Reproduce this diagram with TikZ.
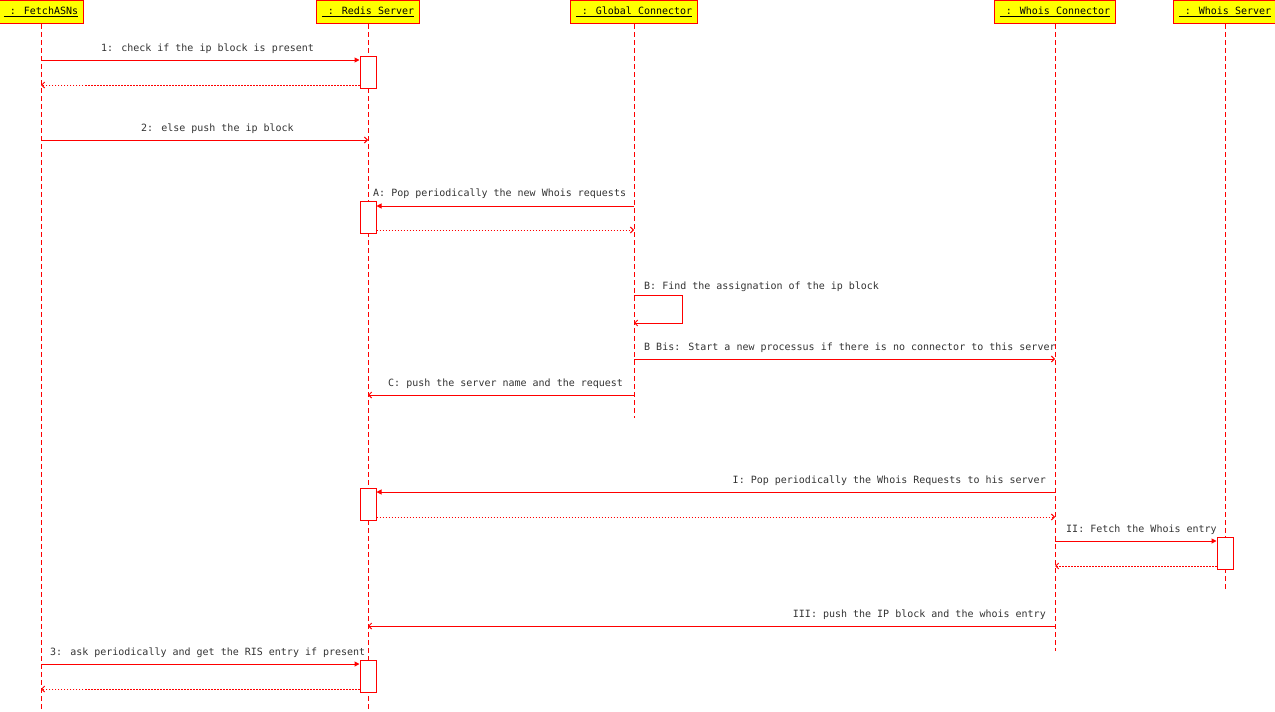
\documentclass[tikz,border=0pt]{standalone}
\usepackage{fontspec}
\setmainfont{DejaVu Sans Mono}
\usetikzlibrary{arrows.meta}
\definecolor{seqred}{RGB}{255,0,0}
\definecolor{headfill}{RGB}{255,255,0}
\definecolor{labeltext}{RGB}{51,51,51}
\begin{document}
\begin{tikzpicture}[x=1pt,y=-1pt,
  lifehead/.style={draw=seqred, fill=headfill, line width=1pt, minimum height=23pt,
    inner xsep=5pt, inner ysep=0pt, font=\fontsize{10}{12}\selectfont, text=black, anchor=north},
  lifeline/.style={draw=seqred, line width=1pt, dash pattern=on 5pt off 3pt},
  actbox/.style={draw=seqred, fill=white, line width=1pt, minimum width=16pt,
    minimum height=32pt, inner sep=0pt, anchor=north},
  syncmsg/.style={draw=seqred, line width=1pt, -{Triangle[length=5pt,width=5pt]}},
  asyncmsg/.style={draw=seqred, line width=1pt, -{Straight Barb[length=3pt,width=6pt]}},
  replymsg/.style={draw=seqred, line width=1pt, dash pattern=on 1.5pt off 1.5pt,
    -{Straight Barb[length=3pt,width=6pt]}},
  msglabel/.style={text=labeltext, font=\fontsize{10}{12}\selectfont, inner sep=0pt}
]
\useasboundingbox (0,0) rectangle (1275,712);

% lifeline heads
\node[lifehead] (fetch)  at (41,0)   {\underline{\ : FetchASNs}};
\node[lifehead] (redis)  at (368,0)  {\underline{\ : Redis Server}};
\node[lifehead] (global) at (634,0)  {\underline{\ : Global Connector}};
\node[lifehead] (whoisc) at (1055,0) {\underline{\ : Whois Connector}};
\node[lifehead] (whoiss) at (1225,0) {\underline{\ : Whois Server}};

% lifeline ends
\coordinate (fetchEnd)  at (41,712);
\coordinate (redisEnd)  at (368,712);
\coordinate (globalEnd) at (634,418);
\coordinate (whoiscEnd) at (1055,651);
\coordinate (whoissEnd) at (1225,589);

\draw[lifeline] (fetch.south)  -- (fetchEnd);
\draw[lifeline] (redis.south)  -- (redisEnd);
\draw[lifeline] (global.south) -- (globalEnd);
\draw[lifeline] (whoisc.south) -- (whoiscEnd);
\draw[lifeline] (whoiss.south) -- (whoissEnd);

% activation bars
\node[actbox] (act1) at (368,56)  {};
\node[actbox] (actA) at (368,201) {};
\node[actbox] (actI) at (368,488) {};
\node[actbox] (actII) at (1225,537) {};
\node[actbox] (act3) at (368,660) {};

% message anchor points on the lifelines
\coordinate (m1)   at (41,60);
\coordinate (r1)   at (41,85);
\coordinate (m2)   at (41,140);
\coordinate (m2e)  at (368,140);
\coordinate (mA)   at (634,206);
\coordinate (rA)   at (634,230);
\coordinate (mB)   at (634,295);
\coordinate (mBc1) at (682,295);
\coordinate (mBc2) at (682,323);
\coordinate (mBe)  at (634,323);
\coordinate (mBB)  at (634,359);
\coordinate (mBBe) at (1055,359);
\coordinate (mC)   at (634,395);
\coordinate (mCe)  at (368,395);
\coordinate (mI)   at (1055,492);
\coordinate (rI)   at (1055,517);
\coordinate (mII)  at (1055,541);
\coordinate (rII)  at (1055,566);
\coordinate (mIII) at (1055,626);
\coordinate (mIIIe) at (368,626);
\coordinate (m3)   at (41,664);
\coordinate (r3)   at (41,689);

% 1
\draw[syncmsg]  (m1) -- (act1.west |- m1);
\draw[replymsg] (act1.west |- r1) -- (r1);
\node[msglabel, anchor=base west] (l1) at (101,51) {1: check if the ip block is present};
% 2
\draw[asyncmsg] (m2) -- (m2e);
\node[msglabel, anchor=base west] (l2) at (141,131) {2: else push the ip block};
% A
\draw[syncmsg]  (mA) -- (actA.east |- mA);
\draw[replymsg] (actA.east |- rA) -- (rA);
\node[msglabel, anchor=base west] (lA) at (373,196) {A: Pop periodically the new Whois requests};
% B
\draw[asyncmsg] (mB) -- (mBc1) -- (mBc2) -- (mBe);
\node[msglabel, anchor=base west] (lB) at (644,289) {B: Find the assignation of the ip block};
% B Bis
\draw[asyncmsg] (mBB) -- (mBBe);
\node[msglabel, anchor=base west] (lBB) at (644,350) {B Bis: Start a new processus if there is no connector to this server};
% C
\draw[asyncmsg] (mC) -- (mCe);
\node[msglabel, anchor=base west] (lC) at (388,386) {C: push the server name and the request};
% I
\draw[syncmsg]  (mI) -- (actI.east |- mI);
\draw[replymsg] (actI.east |- rI) -- (rI);
\node[msglabel, anchor=base east] (lI) at (1046,483) {I: Pop periodically the Whois Requests to his server};
% II
\draw[syncmsg]  (mII) -- (actII.west |- mII);
\draw[replymsg] (actII.west |- rII) -- (rII);
\node[msglabel, anchor=base west] (lII) at (1066,532) {II: Fetch the Whois entry};
% III
\draw[asyncmsg] (mIII) -- (mIIIe);
\node[msglabel, anchor=base east] (lIII) at (1046,617) {III: push the IP block and the whois entry};
% 3
\draw[syncmsg]  (m3) -- (act3.west |- m3);
\draw[replymsg] (act3.west |- r3) -- (r3);
\node[msglabel, anchor=base west] (l3) at (50,655) {3: ask periodically and get the RIS entry if present};
\end{tikzpicture}
\end{document}
